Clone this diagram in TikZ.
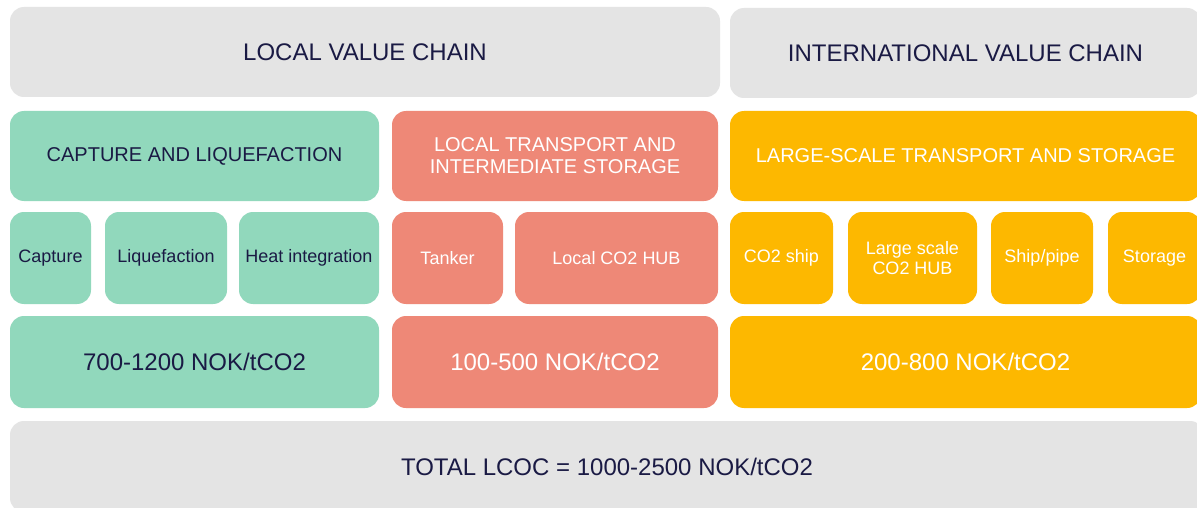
\documentclass[tikz,border=0pt]{standalone}
\usepackage{fontspec}
\setmainfont{Liberation Sans}
\definecolor{panelgrey}{HTML}{E4E4E4}
\definecolor{capgreen}{HTML}{91D8BC}
\definecolor{transsalmon}{HTML}{EE8877}
\definecolor{storeyellow}{HTML}{FDB800}
\definecolor{inknavy}{HTML}{1A1A44}
\begin{document}
\begin{tikzpicture}[x=1pt,y=-1pt,
  card/.style={rectangle, rounded corners=14pt, inner sep=0pt, align=center, draw=none},
  greycard/.style={card, fill=panelgrey, text=inknavy},
  greencard/.style={card, fill=capgreen, text=inknavy},
  salmoncard/.style={card, fill=transsalmon, text=white},
  yellowcard/.style={card, fill=storeyellow, text=white},
  headfont/.style={font=\fontsize{24}{28}\selectfont},
  titlefont/.style={font=\fontsize{20}{22}\selectfont},
  itemfont/.style={font=\fontsize{18}{20}\selectfont},
  costfont/.style={font=\fontsize{24}{28}\selectfont}]
\useasboundingbox (0,0) rectangle (1197,508);
\fill[white] (0,0) rectangle (1197,508);

% value chain headers
\node[greycard, headfont, minimum width=710pt, minimum height=90pt] (local) at (365,52) {LOCAL VALUE CHAIN};
\node[greycard, headfont, minimum width=471pt, minimum height=90pt] (intl) at (965.5,53) {INTERNATIONAL VALUE CHAIN};

% stage titles
\node[greencard, titlefont, minimum width=369pt, minimum height=90pt] (capliq) at (194.5,156) {CAPTURE AND LIQUEFACTION};
\node[salmoncard, titlefont, minimum width=326pt, minimum height=90pt] (localts) at (555,156) {LOCAL TRANSPORT AND\\INTERMEDIATE STORAGE};
\node[yellowcard, titlefont, minimum width=471pt, minimum height=90pt] (largets) at (965.5,156) {LARGE-SCALE TRANSPORT AND STORAGE};

% stage components
\node[greencard, itemfont, minimum width=81pt, minimum height=92pt] (capture) at (50.5,258) {Capture};
\node[greencard, itemfont, minimum width=122pt, minimum height=92pt] (liquef) at (166,258) {Liquefaction};
\node[greencard, itemfont, minimum width=140pt, minimum height=92pt] (heat) at (309,258) {Heat integration};
\node[salmoncard, itemfont, minimum width=111pt, minimum height=92pt] (tanker) at (447.5,258) {Tanker};
\node[salmoncard, itemfont, minimum width=203pt, minimum height=92pt] (localhub) at (616.5,258) {Local CO2 HUB};
\node[yellowcard, itemfont, minimum width=103pt, minimum height=92pt] (ship) at (781.5,258) {CO2 ship};
\node[yellowcard, itemfont, minimum width=129pt, minimum height=92pt] (largehub) at (912.5,258) {Large scale\\CO2 HUB};
\node[yellowcard, itemfont, minimum width=102pt, minimum height=92pt] (shippipe) at (1042,258) {Ship/pipe};
\node[yellowcard, itemfont, minimum width=93pt, minimum height=92pt] (storage) at (1154.5,258) {Storage};

% cost ranges
\node[greencard, costfont, minimum width=369pt, minimum height=92pt] (capcost) at (194.5,362) {700-1200 NOK/tCO2};
\node[salmoncard, costfont, minimum width=326pt, minimum height=92pt] (localcost) at (555,362) {100-500 NOK/tCO2};
\node[yellowcard, costfont, minimum width=471pt, minimum height=92pt] (largecost) at (965.5,362) {200-800 NOK/tCO2};

% total levelised cost
\node[greycard, costfont, minimum width=1194pt, minimum height=91pt] (total) at (607,466.5) {TOTAL LCOC = 1000-2500 NOK/tCO2};
\end{tikzpicture}
\end{document}
